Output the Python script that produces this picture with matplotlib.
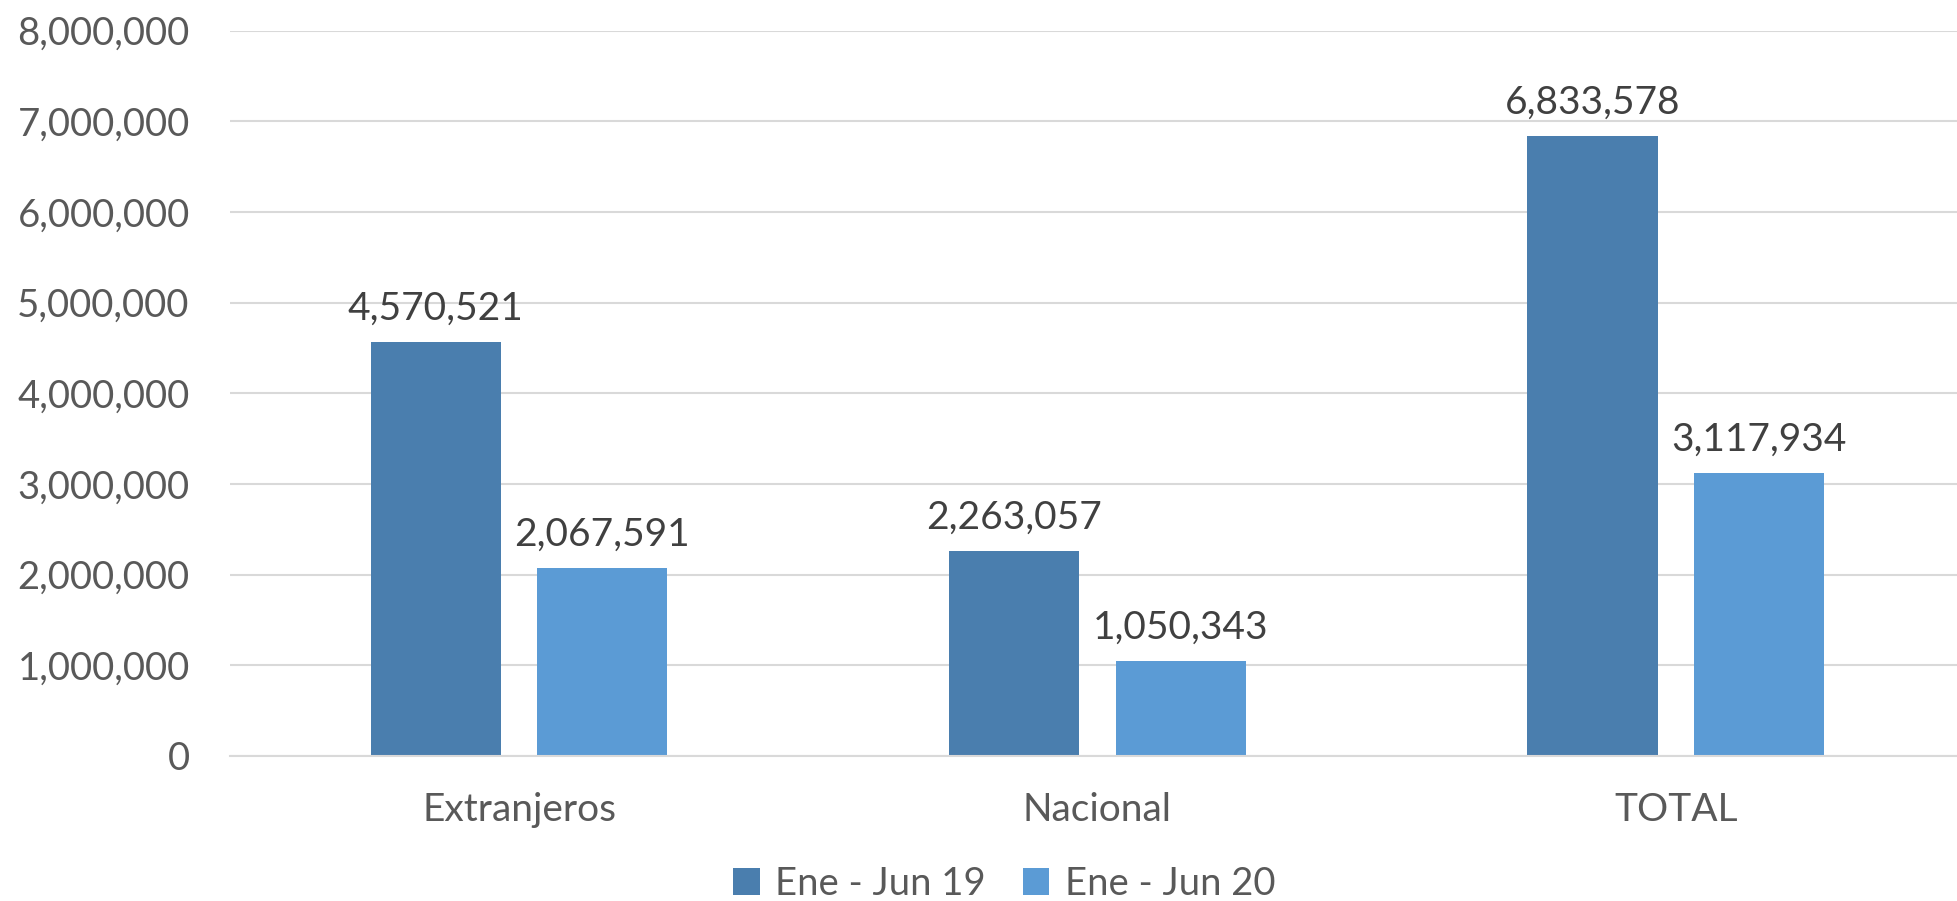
import numpy as np
import matplotlib.pyplot as plt
from matplotlib.ticker import FuncFormatter

categories = ["Extranjeros", "Nacional", "TOTAL"]
series_names = ["Ene - Jun 19", "Ene - Jun 20"]
jun19 = [4570521, 2263057, 6833578]
jun20 = [2067591, 1050343, 3117934]

plt.rcParams['font.family'] = ['Lato', 'DejaVu Sans']

fig = plt.figure(figsize=(19.57, 9.01), dpi=100)
ax = fig.add_axes([0.1175, 0.161, 0.8866, 0.805])

x = np.arange(len(categories))
w = 0.225
off = 0.144
colors = ['#4a7eae', '#5b9bd5']

for vals, shift, col, name in zip([jun19, jun20], [-off, off], colors, series_names):
    bars = ax.bar(x + shift, vals, w, color=col, label=name, zorder=2)
    for b, v in zip(bars, vals):
        ax.annotate(f"{v:,}", (b.get_x() + b.get_width() / 2, v),
                    xytext=(0, 11), textcoords='offset points',
                    ha='center', va='bottom', fontsize=28, color='#404040')

ax.set_xlim(-0.5, 2.5)
ax.set_ylim(0, 8000000)
ax.set_yticks(np.arange(0, 8000001, 1000000))
ax.yaxis.set_major_formatter(FuncFormatter(lambda v, p: f"{int(v):,}"))
ax.set_xticks(x)
ax.set_xticklabels(categories)
ax.grid(axis='y', color='#d9d9d9', linewidth=1.5, zorder=0)
ax.set_axisbelow(True)
for s in ['top', 'right', 'left']:
    ax.spines[s].set_visible(False)
ax.spines['bottom'].set_color('#d9d9d9')
ax.spines['bottom'].set_linewidth(1.5)
ax.tick_params(axis='y', length=0, pad=29, labelsize=27.5, labelcolor='#595959')
ax.tick_params(axis='x', length=0, pad=26, labelsize=28, labelcolor='#595959')

fig.legend(loc='center', bbox_to_anchor=(0.513, 0.019), ncol=2, frameon=False,
           fontsize=27.5, labelcolor='#595959', handlelength=0.7, handleheight=0.7,
           handletextpad=0.4, columnspacing=0.97, borderaxespad=0)

fig.savefig('out.png', dpi=100)
